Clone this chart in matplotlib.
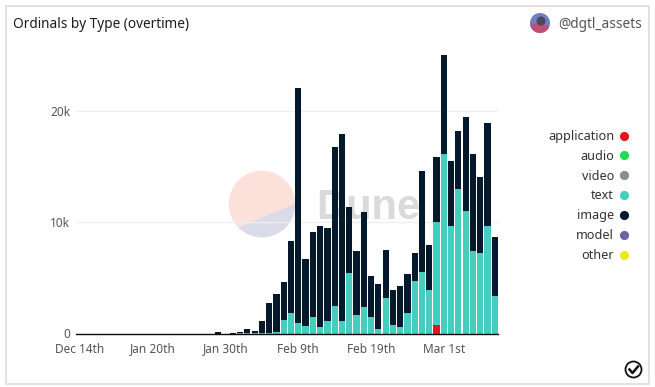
import numpy as np
import matplotlib
matplotlib.use('Agg')
import matplotlib.pyplot as plt
from matplotlib.lines import Line2D
from matplotlib.patches import Circle, Polygon, Rectangle, Wedge

plt.rcParams['font.family'] = ['Noto Sans', 'DejaVu Sans']

# one label per bar position, only every 10th is shown
tick_pos = [0, 10, 20, 30, 40, 50]
tick_labels = ['Dec 14th', 'Jan 20th', 'Jan 30th', 'Feb 9th', 'Feb 19th', 'Mar 1st']

# values in k, one per day, 58 days
application = [0]*49 + [0.75] + [0]*8
text = [0, 0, 0, 0, 0, 0, 0, 0, 0, 0,
        0, 0, 0, 0, 0, 0, 0, 0, 0, 0,
        0, 0, 0.01, 0.02, 0.01, 0.02, 0.06, 0.09, 1.2, 1.88,
        0.9, 0.7, 1.5, 0.54, 1.14, 2.45, 1.14, 5.41, 1.64, 2.36,
        1.5, 0.39, 3.2, 0.75, 0.6, 1.85, 4.69, 5.56, 3.89, 9.25,
        16.09, 9.63, 13.0, 11.03, 7.39, 7.2, 9.63, 3.35]
image = [0, 0, 0, 0, 0, 0, 0, 0, 0, 0,
         0, 0, 0, 0, 0, 0, 0, 0, 0, 0.09,
         0, 0.05, 0.14, 0.4, 0.19, 1.06, 2.66, 3.44, 3.46, 6.46,
         21.08, 6.0, 7.62, 9.12, 8.31, 14.25, 16.74, 5.98, 5.77, 8.52,
         3.64, 4.01, 4.28, 3.14, 3.7, 3.53, 2.49, 9.0, 4.06, 5.82,
         8.88, 5.86, 5.18, 8.43, 8.67, 6.85, 9.24, 5.29]

legend_names = ['application', 'audio', 'video', 'text', 'image', 'model', 'other']
legend_colors = ['#e8141c', '#1fdc55', '#8c8c8c', '#45cdbd', '#04192b', '#6b63a8', '#ece81e']

W, H = 655, 387
fig = plt.figure(figsize=(W/100, H/100), dpi=100)

# background layer in pixel coordinates for the card and the watermark
bg = fig.add_axes([0, 0, 1, 1], zorder=0)
bg.set_xlim(0, W)
bg.set_ylim(H, 0)
bg.axis('off')
bg.add_patch(Rectangle((5.5, 5.5), 643.5, 378.5, fc='white', ec='#e2dcd9', lw=1.2))

# dune logo + name
logo = Circle((262, 204), 33.3, fc='#fbe1da', ec='none')
bg.add_patch(logo)
lower = Polygon([(225, 233.5), (300, 201.5), (300, 240), (225, 240)], fc='#d9dbe9', ec='none')
bg.add_patch(lower)
lower.set_clip_path(logo)
bg.text(316, 219, 'Dune', fontsize=30, fontweight='bold', family='Liberation Sans',
        color='#dadada', va='baseline', ha='left')

# title row
bg.text(13, 28, 'Ordinals by Type (overtime)', fontsize=9.8, color='#1c1c1c', va='baseline')
bg.text(558, 28, '@dgtl_assets', fontsize=9.9, color='#555555', va='baseline')
bg.add_patch(Circle((540, 23), 10, fc='#6f7fc4', ec='none'))
bg.add_patch(Wedge((540, 23), 10, 20, 170, fc='#bf4f74', ec='none'))
bg.add_patch(Circle((541, 21), 4.5, fc='#4a4a5c', ec='none'))

# check icon bottom right
bg.add_patch(Circle((633.5, 369.5), 8, fc='white', ec='#111111', lw=1.3))
bg.plot([629.5, 632.5, 638], [369.5, 373, 366.5], color='#111111', lw=1.8)

ax = fig.add_axes([76.4/W, 1 - 333.5/H, 422/W, 290/H], zorder=1)
ax.patch.set_alpha(0)

x = np.arange(len(text))
app = np.array(application)
txt = np.array(text)
img = np.array(image)
ax.bar(x, app, width=0.85, color=legend_colors[0], zorder=3)
ax.bar(x, txt, bottom=app, width=0.85, color=legend_colors[3], zorder=3)
ax.bar(x, img, bottom=app + txt, width=0.85, color=legend_colors[4], zorder=3)

ax.set_xlim(-0.5, 57.5)
ax.set_ylim(0, 290/11.15)
ax.set_yticks([0, 10, 20])
ax.set_yticklabels(['0', '10k', '20k'], va='center_baseline')
ax.set_xticks(tick_pos)
ax.set_xticklabels(tick_labels)
ax.tick_params(length=0, labelsize=8.5, labelcolor='#555555')
ax.tick_params(axis='x', pad=6.5)
ax.tick_params(axis='y', pad=4.5)
ax.grid(axis='y', color='#efefef', lw=0.9, zorder=0)
for s in ['top', 'right', 'left']:
    ax.spines[s].set_visible(False)
ax.spines['bottom'].set_color('#0a0a0a')
ax.spines['bottom'].set_linewidth(1.0)
ax.spines['bottom'].set_zorder(4)

handles = [Line2D([], [], ls='', marker='o', ms=6.6, mfc=c, mec='none') for c in legend_colors]
fig.legend(handles, legend_names, loc='upper right', bbox_to_anchor=(633/W, 1 - 130/H),
           frameon=False, markerfirst=False, fontsize=9.1, labelcolor='#333333',
           labelspacing=0.54, handletextpad=0.1, borderpad=0, borderaxespad=0,
           handlelength=1.4, alignment='right')

fig.savefig('out.png', dpi=100)
